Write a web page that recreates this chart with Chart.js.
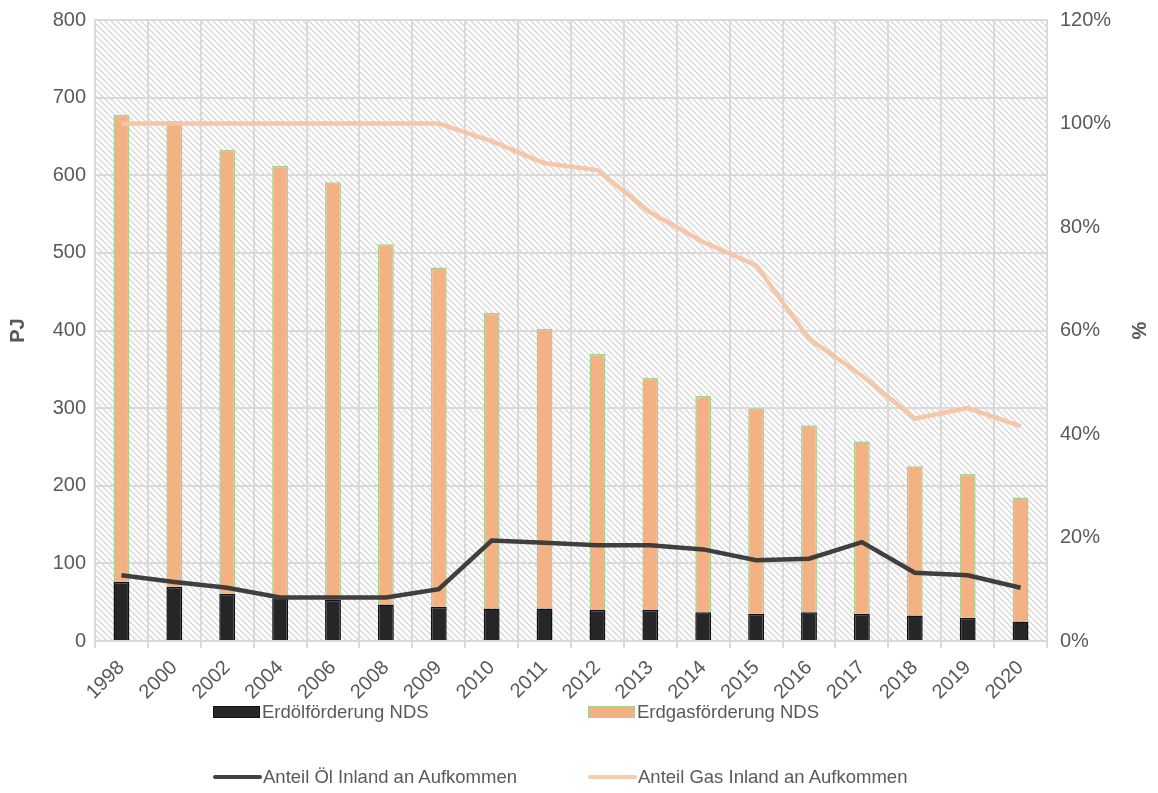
<!DOCTYPE html>
<html>
<head>
<meta charset="utf-8">
<script src="https://cdn.jsdelivr.net/npm/chart.js@4.4.1/dist/chart.umd.min.js"></script>
<style>
  body { margin: 0; background: #fff; }
  #wrap { position: relative; width: 1158px; height: 793px; font-family: "Liberation Sans", Arial, sans-serif; }
  .leg { position: absolute; display: flex; align-items: center; color: #595959; font-size: 18.5px; white-space: nowrap; }
  .sw-bar { width: 47px; height: 12px; margin-right: 2px; box-sizing: border-box; }
  .sw-line { width: 49px; height: 4px; border-radius: 2px; margin-right: 1px; }
</style>
</head>
<body>
<div id="wrap">
  <canvas id="chart" width="1158" height="793"></canvas>
  <div class="leg" style="left:213px; top:701px;"><span class="sw-bar" style="background:#262626;border:1.5px solid #111;"></span>Erdölförderung NDS</div>
  <div class="leg" style="left:588px; top:701px;"><span class="sw-bar" style="background:#F4B183;border:1.5px solid #A9D18E;"></span>Erdgasförderung NDS</div>
  <div class="leg" style="left:213px; top:766px;"><span class="sw-line" style="background:#404040;"></span>Anteil Öl Inland an Aufkommen</div>
  <div class="leg" style="left:588px; top:766px;"><span class="sw-line" style="background:#F8CBAD;"></span>Anteil Gas Inland an Aufkommen</div>
</div>
<script>
const years = ['1998', '2000', '2002', '2004', '2006', '2008', '2009', '2010', '2011',
  '2012', '2013', '2014', '2015', '2016', '2017', '2018', '2019', '2020'];

// PJ
const oilProduction = [76, 70, 61, 55, 53, 47, 44, 42, 42, 40, 40, 37, 35, 37, 35, 33, 30, 25];
const gasProduction = [602, 600, 572, 557, 538, 464, 437, 381, 360, 330, 299, 279, 265, 241, 222, 192, 185, 160];

// % of supply
const oilShare = [12.7, 11.4, 10.3, 8.4, 8.4, 8.4, 10.0, 19.4, 19.0, 18.5, 18.5, 17.7, 15.6, 15.9, 19.1, 13.2, 12.7, 10.3];
const gasShare = [100, 100, 100, 100, 100, 100, 100, 96.6, 92.3, 91.0, 82.8, 77.1, 72.6, 58.4, 51.3, 43.0, 45.0, 41.5];

const leftTicks = [0, 100, 200, 300, 400, 500, 600, 700, 800];
const rightTicks = [0, 20, 40, 60, 80, 100, 120];

const grey = '#595959';
const gridColor = '#d9d9d9';

// diagonal hatch for the plot area
function makeHatch() {
  const c = document.createElement('canvas');
  c.width = 12; c.height = 12;
  const g = c.getContext('2d');
  g.fillStyle = '#fff';
  g.fillRect(0, 0, 12, 12);
  g.strokeStyle = '#d8d8d8';
  g.lineWidth = 1.4;
  for (let k = -12; k <= 12; k += 6) {
    g.beginPath();
    g.moveTo(0, k);
    g.lineTo(12, 12 + k);
    g.stroke();
  }
  return c;
}

const hatchBg = {
  id: 'hatchBg',
  beforeDraw(chart) {
    const { ctx, chartArea: a } = chart;
    ctx.save();
    ctx.fillStyle = ctx.createPattern(makeHatch(), 'repeat');
    ctx.fillRect(a.left, a.top, a.right - a.left, a.bottom - a.top);
    ctx.restore();
  }
};

const axisTitles = {
  id: 'axisTitles',
  afterDraw(chart) {
    const { ctx, chartArea: a } = chart;
    const mid = (a.top + a.bottom) / 2;
    ctx.save();
    ctx.fillStyle = grey;
    ctx.font = 'bold 20px "Liberation Sans", Arial, sans-serif';
    ctx.textAlign = 'center';
    ctx.textBaseline = 'middle';
    ctx.translate(18, mid);
    ctx.rotate(-Math.PI / 2);
    ctx.fillText('PJ', 0, 0);
    ctx.restore();
    ctx.save();
    ctx.fillStyle = grey;
    ctx.font = 'bold 20px "Liberation Sans", Arial, sans-serif';
    ctx.textAlign = 'center';
    ctx.textBaseline = 'middle';
    ctx.translate(1140, mid);
    ctx.rotate(-Math.PI / 2);
    ctx.fillText('%', 0, 0);
    ctx.restore();
  }
};

const tickFont = { family: '"Liberation Sans", Arial, sans-serif', size: 20 };

new Chart(document.getElementById('chart'), {
  type: 'bar',
  data: {
    labels: years,
    datasets: [
      {
        label: 'Erdölförderung NDS',
        data: oilProduction,
        backgroundColor: '#262626',
        borderColor: '#111111',
        borderWidth: 1.5,
        yAxisID: 'y',
        stack: 'pj',
        order: 2,
        barPercentage: 0.3,
        categoryPercentage: 1
      },
      {
        label: 'Erdgasförderung NDS',
        data: gasProduction,
        backgroundColor: '#F4B183',
        borderColor: '#A9D18E',
        borderWidth: 1.5,
        yAxisID: 'y',
        stack: 'pj',
        order: 2,
        barPercentage: 0.3,
        categoryPercentage: 1
      },
      {
        type: 'line',
        label: 'Anteil Öl Inland an Aufkommen',
        data: oilShare,
        borderColor: 'rgba(54,54,54,0.95)',
        borderWidth: 4.5,
        pointRadius: 0,
        tension: 0,
        yAxisID: 'y1',
        order: 1
      },
      {
        type: 'line',
        label: 'Anteil Gas Inland an Aufkommen',
        data: gasShare,
        borderColor: 'rgba(246,196,164,0.95)',
        borderWidth: 4.5,
        pointRadius: 0,
        tension: 0,
        yAxisID: 'y1',
        order: 1
      }
    ]
  },
  options: {
    responsive: false,
    animation: false,
    layout: { padding: { top: 20, left: 0, right: 0, bottom: 0 } },
    plugins: {
      legend: { display: false },
      tooltip: { enabled: false }
    },
    scales: {
      x: {
        stacked: true,
        grid: { color: gridColor, lineWidth: 2, offset: true, drawTicks: true, tickLength: 7, tickColor: gridColor },
        border: { color: gridColor, width: 2 },
        ticks: { color: grey, font: tickFont, minRotation: 45, maxRotation: 45, padding: 8, autoSkip: false },
        afterFit(s) { s.height = 152; }
      },
      y: {
        stacked: true,
        position: 'left',
        min: 0,
        max: 800,
        afterBuildTicks(s) { s.ticks = leftTicks.map(v => ({ value: v })); },
        grid: { color: gridColor, lineWidth: 2, drawTicks: false },
        border: { color: gridColor, width: 2 },
        ticks: { color: grey, font: tickFont, padding: 9 },
        afterFit(s) { s.width = 95; s.paddingTop = 0; s.paddingBottom = 0; }
      },
      y1: {
        position: 'right',
        min: 0,
        max: 120,
        afterBuildTicks(s) { s.ticks = rightTicks.map(v => ({ value: v })); },
        grid: { drawOnChartArea: false, drawTicks: false },
        border: { color: gridColor, width: 2 },
        ticks: { color: grey, font: tickFont, padding: 13, callback: v => v + '%' },
        afterFit(s) { s.width = 111; s.paddingTop = 0; s.paddingBottom = 0; }
      }
    }
  },
  plugins: [hatchBg, axisTitles]
});
</script>
</body>
</html>
